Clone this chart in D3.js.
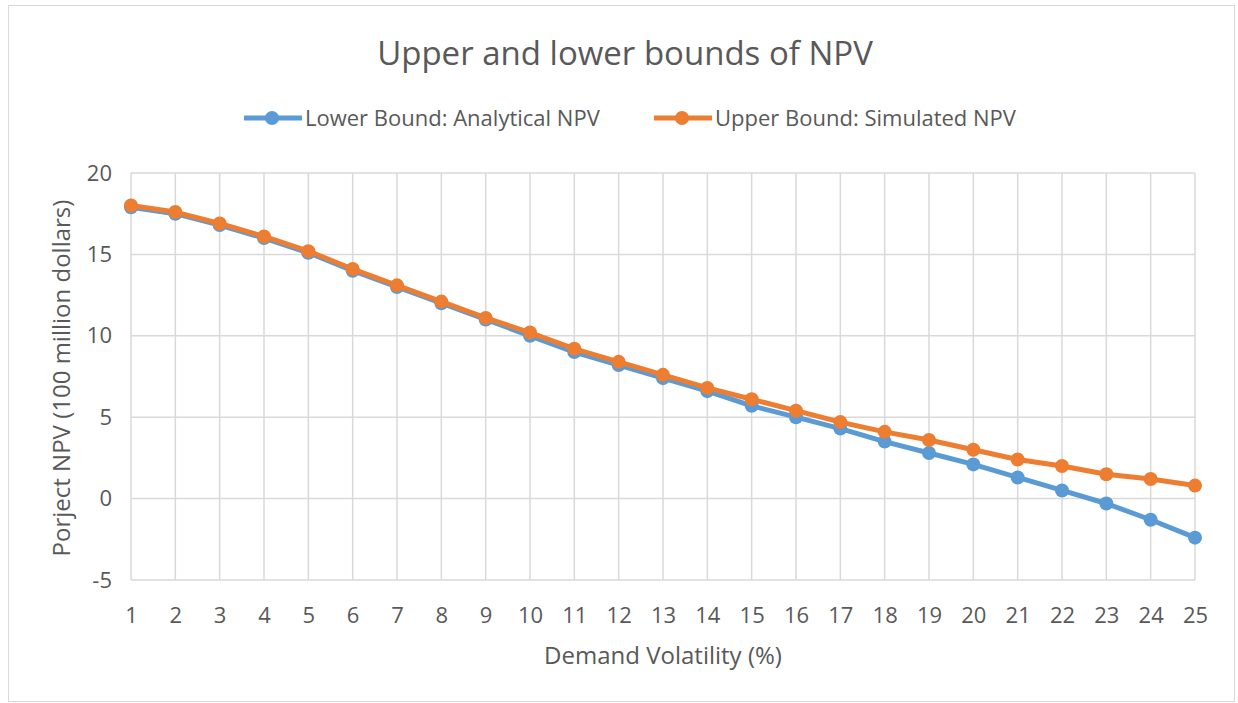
<!DOCTYPE html>
<html><head><meta charset="utf-8">
<script src="https://cdn.jsdelivr.net/npm/d3@7"></script>
<style>body{margin:0;background:#fff;} svg{display:block;} text{font-family:"Open Sans","Noto Sans",sans-serif;}</style>
</head><body><svg id="c" width="1238" height="703"></svg>
<script>
const categories = [1,2,3,4,5,6,7,8,9,10,11,12,13,14,15,16,17,18,19,20,21,22,23,24,25];
const lowerBound = [17.9,17.5,16.8,16.0,15.1,14.0,13.0,12.0,11.0,10.0,9.0,8.2,7.4,6.6,5.7,5.0,4.3,3.5,2.8,2.1,1.3,0.5,-0.3,-1.3,-2.4];
const upperBound = [18.0,17.6,16.9,16.1,15.2,14.1,13.1,12.1,11.1,10.2,9.2,8.4,7.6,6.8,6.1,5.4,4.7,4.1,3.6,3.0,2.4,2.0,1.5,1.2,0.8];
const yTicks = [-5,0,5,10,15,20];
const seriesNames = ["Lower Bound: Analytical NPV","Upper Bound: Simulated NPV"];
const colors = ["#5B9BD5","#ED7D31"];

const svg = d3.select("#c");
svg.append("rect").attr("x",8.5).attr("y",5.5).attr("width",1226).attr("height",696)
  .attr("fill","#fff").attr("stroke","#d9d9d9").attr("stroke-width",1);

const x = d3.scalePoint().domain(categories).range([131,1195]);
const y = d3.scaleLinear().domain([-5,20]).range([580,173]);

const grid = svg.append("g");
grid.selectAll("line.h").data(yTicks).join("line")
  .attr("x1",131).attr("x2",1195).attr("y1",d=>y(d)).attr("y2",d=>y(d))
  .attr("stroke","#d9d9d9").attr("stroke-width",1.5);
grid.selectAll("line.v").data(categories).join("line")
  .attr("y1",y(20)).attr("y2",y(-5)).attr("x1",d=>x(d)).attr("x2",d=>x(d))
  .attr("stroke","#d9d9d9").attr("stroke-width",1.5);

const yAxis = svg.append("g").attr("transform","translate(131,0)")
  .call(d3.axisLeft(y).tickValues(yTicks).tickSize(0).tickPadding(19).tickFormat(d=>String(d)));
yAxis.select(".domain").remove();
yAxis.selectAll("text").attr("fill","#595959").style("font-size","22px");

const xAxis = svg.append("g").attr("transform","translate(0,580)")
  .call(d3.axisBottom(x).tickSize(0).tickPadding(27));
xAxis.select(".domain").remove();
xAxis.selectAll("text").attr("fill","#595959").style("font-size","22px");

const data = [lowerBound, upperBound];
const line = d3.line().x((d,i)=>x(categories[i])).y(d=>y(d));
data.forEach((s,k)=>{
  const g = svg.append("g");
  g.append("path").datum(s).attr("d",line).attr("fill","none")
    .attr("stroke",colors[k]).attr("stroke-width",5).attr("stroke-linejoin","round");
  g.selectAll("circle").data(s).join("circle")
    .attr("cx",(d,i)=>x(categories[i])).attr("cy",d=>y(d)).attr("r",7)
    .attr("fill",colors[k]);
});

svg.append("text").attr("x",625).attr("y",65).attr("text-anchor","middle")
  .attr("fill","#595959").style("font-size","33px").text("Upper and lower bounds of NPV");

const legX = [244,654];
seriesNames.forEach((n,k)=>{
  const g = svg.append("g");
  g.append("line").attr("x1",legX[k]).attr("x2",legX[k]+58).attr("y1",118).attr("y2",118)
    .attr("stroke",colors[k]).attr("stroke-width",5);
  g.append("circle").attr("cx",legX[k]+28).attr("cy",118).attr("r",7).attr("fill",colors[k]);
  g.append("text").attr("x",legX[k]+61).attr("y",125.5).attr("fill","#595959")
    .style("font-size","22px").text(n);
});

svg.append("text").attr("transform","translate(70,378) rotate(-90)").attr("text-anchor","middle")
  .attr("fill","#595959").style("font-size","24px").text("Porject NPV (100 million dollars)");
svg.append("text").attr("x",663).attr("y",664).attr("text-anchor","middle")
  .attr("fill","#595959").style("font-size","24px").text("Demand Volatility (%)");
</script></body></html>
